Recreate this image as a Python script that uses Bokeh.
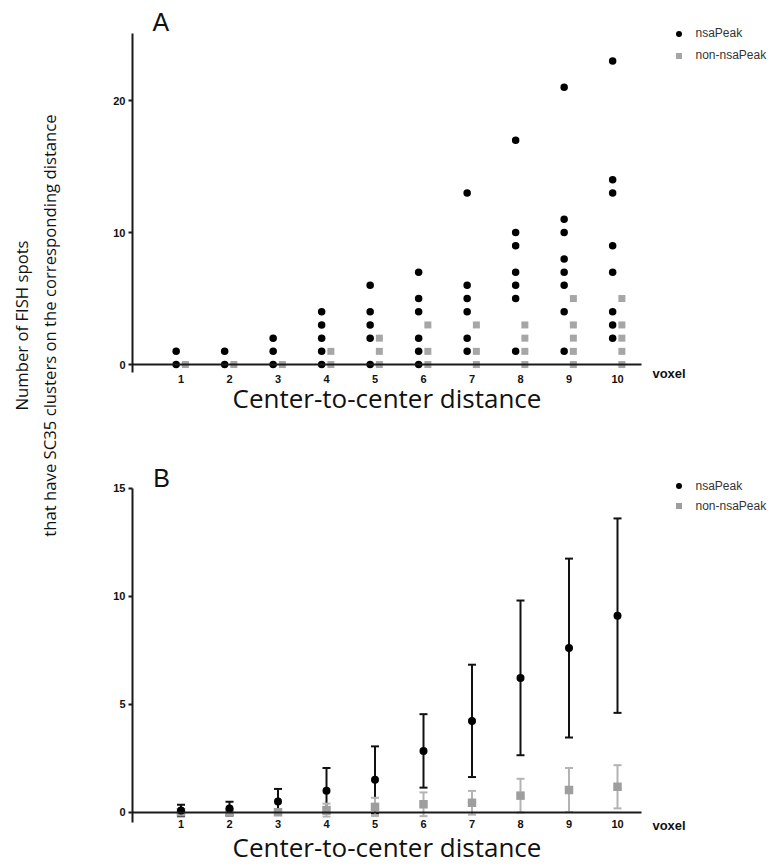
import math
import numpy as np
from bokeh.plotting import figure
from bokeh.models import (ColumnDataSource, FixedTicker, Label, Legend,
                          LegendItem, Range1d)
from bokeh.layouts import row, column
from bokeh.transform import dodge
from bokeh.embed import file_html
from bokeh.resources import INLINE

# ---------------- data ----------------
distances = [1, 2, 3, 4, 5, 6, 7, 8, 9, 10]

# Panel A: individual counts per distance
nsa_counts = [
    [0, 1],
    [0, 1],
    [0, 1, 2],
    [0, 1, 2, 3, 4],
    [0, 2, 3, 4, 6],
    [0, 1, 2, 4, 5, 7],
    [1, 2, 4, 5, 6, 13],
    [1, 5, 6, 7, 9, 10, 17],
    [1, 4, 6, 7, 8, 10, 11, 21],
    [2, 3, 4, 7, 9, 13, 14, 23],
]
non_counts = [
    [0],
    [0],
    [0],
    [0, 1],
    [0, 1, 2],
    [0, 1, 3],
    [0, 1, 3],
    [0, 1, 2, 3],
    [0, 1, 2, 3, 5],
    [0, 1, 2, 3, 5],
]

# Panel B: mean and SD per distance
nsa_mean = [0.08, 0.17, 0.5, 1.0, 1.5, 2.84, 4.23, 6.22, 7.6, 9.1]
nsa_sd = [0.27, 0.32, 0.58, 1.05, 1.55, 1.7, 2.6, 3.58, 4.14, 4.5]
non_mean = [0.0, 0.0, 0.0, 0.1, 0.25, 0.37, 0.44, 0.77, 1.03, 1.18]
non_sd = [0.0, 0.0, 0.0, 0.3, 0.42, 0.55, 0.55, 0.78, 1.02, 1.0]

y_ticks_a = [0, 10, 20]
y_ticks_b = [0, 5, 10, 15]

series_names = ["nsaPeak", "non-nsaPeak"]
x_title = "Center-to-center distance"
x_unit = "voxel"
y_title_1 = "Number of FISH spots"
y_title_2 = "that have SC35 clusters on the corresponding distance"

# ---------------- styles ----------------
BLACK = "#000000"
GREY = "#a6a6a6"
GREY_BAR = "#b3b3b3"
AXIS = "#1a1a1a"
TEXT = "#111111"
TICK_FONT = "Liberation Sans"
TITLE_FONT = "Open Sans"
PANEL_W = 677


def flatten(groups):
    xs, ys = [], []
    for d, vals in zip(distances, groups):
        xs.extend([d] * len(vals))
        ys.extend(vals)
    return xs, ys


def make_panel(height, x_end, y_range, y_ticks, y_bounds, lbl_standoff,
               title_standoff):
    p = figure(width=PANEL_W, height=height, x_range=Range1d(0, x_end),
               y_range=Range1d(*y_range), toolbar_location=None, tools="",
               output_backend="svg", min_border_left=32, min_border_right=0,
               min_border_top=0, min_border_bottom=0)
    p.outline_line_color = None
    p.xgrid.visible = False
    p.ygrid.visible = False
    # x axis drawn on the zero line
    xa = p.xaxis[0]
    xa.fixed_location = 0
    xa.bounds = (0, 10.5)
    xa.ticker = FixedTicker(ticks=distances)
    xa.axis_line_color = AXIS
    xa.axis_line_width = 2
    xa.major_tick_line_color = None
    xa.minor_tick_line_color = None
    xa.major_tick_out = 0
    xa.major_tick_in = 0
    xa.major_label_standoff = lbl_standoff
    xa.major_label_text_font = TICK_FONT
    xa.major_label_text_font_style = "bold"
    xa.major_label_text_font_size = "11px"
    xa.major_label_text_color = TEXT
    xa.axis_label = x_title
    xa.axis_label_text_font = TITLE_FONT
    xa.axis_label_text_font_style = "normal"
    xa.axis_label_text_font_size = "26px"
    xa.axis_label_text_color = TEXT
    xa.axis_label_standoff = title_standoff
    # y axis
    ya = p.yaxis[0]
    ya.ticker = FixedTicker(ticks=y_ticks)
    ya.bounds = y_bounds
    ya.axis_line_color = AXIS
    ya.axis_line_width = 2
    ya.major_tick_line_color = AXIS
    ya.major_tick_line_width = 2
    ya.major_tick_in = 0
    ya.major_tick_out = 4
    ya.minor_tick_line_color = None
    ya.major_label_standoff = 3
    ya.major_label_text_font = TICK_FONT
    ya.major_label_text_font_style = "bold"
    ya.major_label_text_font_size = "11px"
    ya.major_label_text_color = TEXT
    return p


def make_legend(r_black, r_grey, loc, spacing):
    return Legend(items=[LegendItem(label=series_names[0], renderers=[r_black]),
                         LegendItem(label=series_names[1], renderers=[r_grey])],
                  location=loc, padding=0, margin=0, spacing=spacing,
                  glyph_width=15, glyph_height=15, label_height=12,
                  label_standoff=10, label_text_font=TICK_FONT,
                  label_text_font_size="12px", label_text_color="#333333",
                  border_line_color=None, background_fill_alpha=0)


X_END = (PANEL_W - 32) / 48.5

# ---------------- Panel A ----------------
pA = make_panel(422, X_END, (-4.39, 27.58), y_ticks_a, (-0.6, 25.1), 10, -6)
nx, ny = flatten(nsa_counts)
gx, gy = flatten(non_counts)
srcA_n = ColumnDataSource(dict(x=nx, y=ny))
srcA_g = ColumnDataSource(dict(x=gx, y=gy))
rA_g = pA.scatter(x=dodge("x", 0.09, range=pA.x_range), y="y", source=srcA_g,
                  marker="square", size=7, fill_color=GREY, line_color=None)
rA_n = pA.scatter(x=dodge("x", -0.1, range=pA.x_range), y="y", source=srcA_n,
                  marker="circle", size=7.5, fill_color=BLACK, line_color=None)
pA.add_layout(Label(x=0.41, y=25.98, text="A", text_font="Liberation Sans",
                    text_font_size="25px", text_baseline="middle",
                    text_color=TEXT))
pA.add_layout(Label(x=10.72, y=-0.64, text=x_unit, text_font=TICK_FONT,
                    text_font_style="bold", text_font_size="13px",
                    text_baseline="middle", text_color=TEXT))
pA.add_layout(make_legend(rA_n, rA_g, (538.5, 359.5), 7))

# ---------------- Panel B ----------------
pB = make_panel(444, X_END, (-2.51, 18.04), y_ticks_b, (-0.48, 15), 8, -3)
mn = np.array(nsa_mean)
sn = np.array(nsa_sd)
mg = np.array(non_mean)
sg = np.array(non_sd)
srcB_n = ColumnDataSource(dict(x=distances, y=mn, lo=mn - sn, hi=mn + sn))
srcB_g = ColumnDataSource(dict(x=distances, y=mg, lo=mg - sg, hi=mg + sg))

for src, col in ((srcB_n, "#111111"), (srcB_g, GREY_BAR)):
    pB.segment(x0="x", y0="lo", x1="x", y1="hi", source=src,
               line_color=col, line_width=2)
    pB.scatter(x="x", y="hi", source=src, marker="dash", size=8,
               line_color=col, line_width=2)
    pB.scatter(x="x", y="lo", source=src, marker="dash", size=8,
               line_color=col, line_width=2)
rB_g = pB.scatter(x="x", y="y", source=srcB_g, marker="square", size=8.5,
                  fill_color="#9e9e9e", line_color=None)
rB_n = pB.scatter(x="x", y="y", source=srcB_n, marker="circle", size=8,
                  fill_color=BLACK, line_color=None)
pB.add_layout(Label(x=0.43, y=15.47, text="B", text_font="Liberation Sans",
                    text_font_size="25px", text_baseline="middle",
                    text_color=TEXT))
pB.add_layout(Label(x=10.72, y=-0.62, text=x_unit, text_font=TICK_FONT,
                    text_font_style="bold", text_font_size="13px",
                    text_baseline="middle", text_color=TEXT))
pB.add_layout(make_legend(rB_n, rB_g, (538.5, 352.8), 5))

# ---------------- shared y title ----------------
H = 866
p0 = figure(width=100, height=H, x_range=Range1d(0, 100), y_range=Range1d(0, H),
            toolbar_location=None, tools="", output_backend="svg",
            min_border=0)
p0.axis.visible = False
p0.xgrid.visible = False
p0.ygrid.visible = False
p0.outline_line_color = None
for xpos, txt in ((21, y_title_1), (49, y_title_2)):
    p0.add_layout(Label(x=xpos, y=H - 325, text=txt, angle=math.pi / 2,
                        text_align="center", text_baseline="middle",
                        text_font=TITLE_FONT, text_font_size="16.7px",
                        text_color=TEXT))

layout = row(p0, column(pA, pB))
open("out.html", "w").write(file_html(layout, INLINE))
